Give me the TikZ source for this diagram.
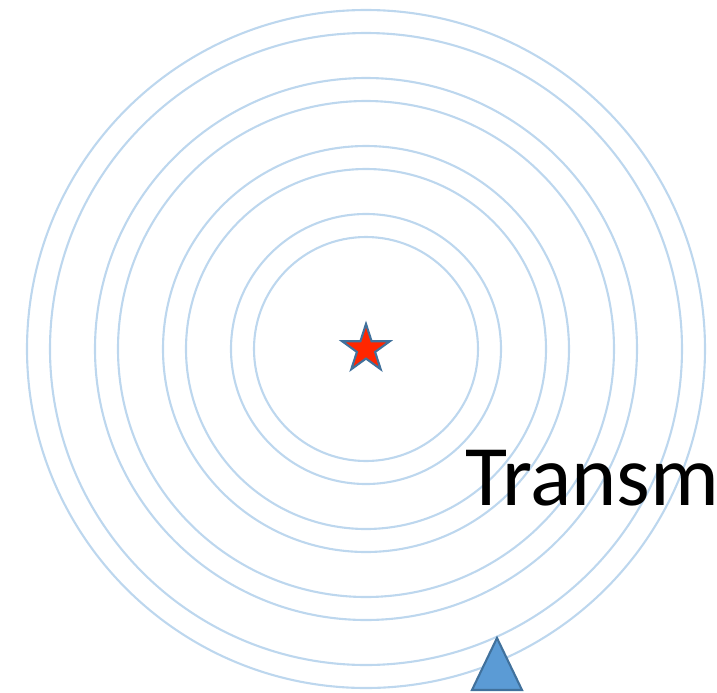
\documentclass[tikz,border=0pt]{standalone}
\usepackage{fontspec}
\setmainfont{Carlito}
\usepackage{tikz}
\usetikzlibrary{shapes.geometric}
\definecolor{ringblue}{RGB}{189,215,238}
\definecolor{starred}{RGB}{255,38,0}
\definecolor{edgeblue}{RGB}{65,113,156}
\definecolor{txblue}{RGB}{91,155,213}

\begin{document}
\begin{tikzpicture}[x=0.01cm,y=-0.01cm]
        \useasboundingbox (0,0) rectangle (717,693);
        \coordinate (src) at (366,349);
        % rings, drawn in pairs
        \foreach \r in {112,180,248,316} {
          \draw[ringblue,line width=0.6pt] (src) circle[radius=\r];
          \draw[ringblue,line width=0.6pt] (src) circle[radius=\r+23];
        }
        \node[star,star points=5,star point ratio=2.618,minimum size=0.5cm,inner sep=0pt,
          fill=starred,draw=edgeblue,line width=0.6pt] (source) at (src) {};
        \node[anchor=base west,font=\fontsize{24.5}{29}\selectfont] (label) at (453,505) {Transm};
        \draw[fill=txblue,draw=edgeblue,line width=0.6pt]
          (472,690) -- (497,638) -- (522,690) -- cycle;
      \end{tikzpicture}
\end{document}
